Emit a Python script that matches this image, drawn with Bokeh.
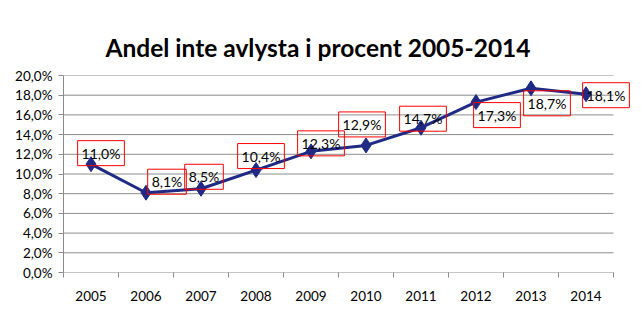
from bokeh.plotting import figure
from bokeh.models import Label, FixedTicker, Range1d, Title
from bokeh.embed import file_html
from bokeh.resources import INLINE

years = [2005, 2006, 2007, 2008, 2009, 2010, 2011, 2012, 2013, 2014]
values = [11.0, 8.1, 8.5, 10.4, 12.3, 12.9, 14.7, 17.3, 18.7, 18.1]
value_labels = ["11,0%", "8,1%", "8,5%", "10,4%", "12,3%", "12,9%", "14,7%", "17,3%", "18,7%", "18,1%"]
y_ticks = [0, 2, 4, 6, 8, 10, 12, 14, 16, 18, 20]
y_tick_labels = ["0,0%", "2,0%", "4,0%", "6,0%", "8,0%", "10,0%", "12,0%", "14,0%", "16,0%", "18,0%", "20,0%"]
title_text = "Andel inte avlysta i procent 2005-2014"

# label box offsets from each point (screen px: dx right, dy up)
label_offsets = [(10, 11), (21, 11), (3, 12), (5, 14), (10, 8), (-4, 21), (2, 9), (21, -13), (16, -15), (20, -1)]

FONT = "Lato"
GRID = "#8c8c8c"
LINE = "#1f2a85"

x_lo = years[0] - 0.5
x_hi = years[-1] + 0.5
# frame runs to the window edge so the last label is not clipped
x_end = x_lo + (641 - 63) / 55.0

p = figure(width=641, height=327, output_backend="svg", toolbar_location=None,
           x_range=Range1d(x_lo, x_end), y_range=Range1d(0, 20),
           min_border_left=63, min_border_right=0, min_border_top=75, min_border_bottom=55)
p.outline_line_color = None
p.background_fill_color = "white"

t = Title(text=title_text, align="left", text_font=FONT, text_font_size="24.5px",
          text_font_style="bold", text_color="black", standoff=27, offset=42)
p.add_layout(t, "above")

# x axis
p.xaxis.ticker = FixedTicker(ticks=years, minor_ticks=[y - 0.5 for y in years] + [x_hi])
p.xaxis.major_label_overrides = {y: str(y) for y in years}
p.xaxis.major_tick_line_color = None
p.xaxis.major_tick_out = 0
p.xaxis.major_tick_in = 0
p.xaxis.minor_tick_out = 5
p.xaxis.minor_tick_in = 0
p.xaxis.minor_tick_line_color = GRID
p.xaxis.axis_line_color = None
p.xaxis.major_label_text_font = FONT
p.xaxis.major_label_text_font_size = "13.5px"
p.xaxis.major_label_text_color = "black"
p.xaxis.major_label_standoff = 13
p.xgrid.grid_line_color = None

# y axis
p.yaxis.ticker = FixedTicker(ticks=y_ticks, minor_ticks=[])
p.yaxis.major_label_overrides = {v: s for v, s in zip(y_ticks, y_tick_labels)}
p.yaxis.major_tick_out = 5
p.yaxis.major_tick_in = 0
p.yaxis.major_tick_line_color = GRID
p.yaxis.axis_line_color = GRID
p.yaxis.major_label_text_font = FONT
p.yaxis.major_label_text_font_size = "13.5px"
p.yaxis.major_label_text_color = "black"
p.yaxis.major_label_standoff = 6
p.ygrid.grid_line_color = None

# horizontal gridlines limited to the category span
p.segment(x0=[x_lo] * len(y_ticks), y0=y_ticks, x1=[x_hi] * len(y_ticks), y1=y_ticks,
          line_color=GRID, line_width=1)

p.line(years, values, line_color=LINE, line_width=3)
p.scatter(years, values, marker="diamond", size=15, fill_color=LINE, line_color=LINE)

for x, v, s, (dx, dy) in zip(years, values, value_labels, label_offsets):
    p.add_layout(Label(x=x, y=v, text=s, x_offset=dx, y_offset=dy,
                       text_align="center", text_baseline="middle",
                       text_font=FONT, text_font_size="14px", text_color="black",
                       border_line_color="red", border_line_width=1,
                       padding=4))

open("out.html", "w").write(file_html(p, INLINE))
